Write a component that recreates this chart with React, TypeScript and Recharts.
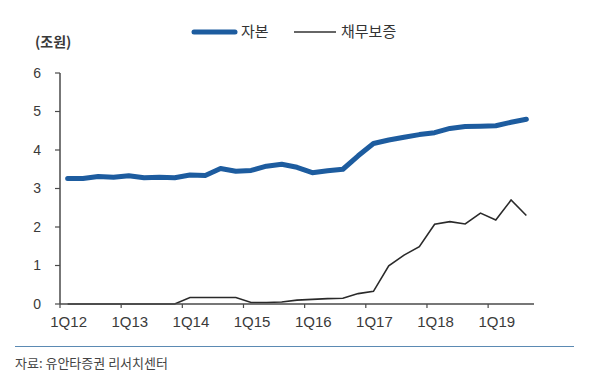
import { LineChart, Line, XAxis, YAxis } from 'recharts';

const quarters = [
  '1Q12', '2Q12', '3Q12', '4Q12',
  '1Q13', '2Q13', '3Q13', '4Q13',
  '1Q14', '2Q14', '3Q14', '4Q14',
  '1Q15', '2Q15', '3Q15', '4Q15',
  '1Q16', '2Q16', '3Q16', '4Q16',
  '1Q17', '2Q17', '3Q17', '4Q17',
  '1Q18', '2Q18', '3Q18', '4Q18',
  '1Q19', '2Q19', '3Q19',
];

// 자본 (조원)
const capital = [
  3.26, 3.26, 3.31, 3.29,
  3.33, 3.28, 3.29, 3.28,
  3.35, 3.34, 3.52, 3.45,
  3.47, 3.58, 3.63, 3.55,
  3.41, 3.46, 3.5, 3.85,
  4.17, 4.26, 4.33, 4.4,
  4.45, 4.56, 4.61, 4.62,
  4.63, 4.72, 4.8,
];

// 채무보증 (조원)
const guarantee = [
  0, 0, 0, 0,
  0, 0, 0, 0,
  0.17, 0.17, 0.17, 0.17,
  0.04, 0.04, 0.05, 0.1,
  0.12, 0.14, 0.15, 0.27,
  0.33, 0.99, 1.27, 1.49,
  2.07, 2.14, 2.08, 2.36,
  2.18, 2.7, 2.3,
];

const yTicks = [0, 1, 2, 3, 4, 5, 6];

const data = quarters.map((q, i) => ({ q, capital: capital[i], guarantee: guarantee[i] }));

const BLUE = '#1d5c9f';
const AXIS = '#4a4a4a';
const KR = '"Noto Sans CJK KR", "Noto Sans", sans-serif';
const LATIN = '"Liberation Sans", Arial, sans-serif';

const PLOT_W = 474;
const BAND = PLOT_W / quarters.length;

function QuarterTick(props: any) {
  const { x, y, payload } = props;
  const tx = x - BAND / 2;
  return (
    <g>
      <line x1={tx} x2={tx} y1={y - 6} y2={y - 2} stroke={AXIS} strokeWidth={1.2} />
      <text x={x + 1} y={y + 17} textAnchor="middle" fontSize={15} fill="#3a3a3a" fontFamily={LATIN}>
        {payload.value}
      </text>
    </g>
  );
}

export default function App() {
  return (
    <div
      style={{
        position: 'absolute',
        left: 0,
        top: 0,
        width: 600,
        height: 390,
        background: '#fff',
        overflow: 'hidden',
      }}
    >
      <div
        style={{
          position: 'absolute',
          left: 35,
          top: 31,
          lineHeight: '20px',
          fontSize: 14,
          fontWeight: 'bold',
          color: '#3a3a3a',
          fontFamily: KR,
        }}
      >
        (조원)
      </div>

      <svg width={600} height={60} style={{ position: 'absolute', left: 0, top: 0 }}>
        <line x1={194} x2={235} y1={32} y2={32} stroke={BLUE} strokeWidth={5} strokeLinecap="round" />
        <text x={241} y={37} fontSize={15} fill="#333" fontFamily={KR}>자본</text>
        <line x1={294} x2={336} y1={32} y2={32} stroke="#333" strokeWidth={1.5} />
        <text x={341} y={37} fontSize={15} fill="#333" fontFamily={KR}>채무보증</text>
      </svg>

      <LineChart
        width={600}
        height={390}
        data={data}
        margin={{ top: 73, right: 66, bottom: 56, left: 0 }}
        style={{ position: 'absolute', left: 0, top: 0 }}
      >
        <XAxis
          dataKey="q"
          type="category"
          scale="band"
          interval={3}
          tickLine={false}
          tickSize={4}
          tickMargin={2}
          height={30}
          axisLine={{ stroke: AXIS, strokeWidth: 1.5 }}
          tick={<QuarterTick />}
        />
        <YAxis
          domain={[0, 6]}
          ticks={yTicks}
          width={60}
          tickSize={5}
          tickMargin={14}
          axisLine={{ stroke: AXIS, strokeWidth: 1.5 }}
          tickLine={{ stroke: AXIS, strokeWidth: 1.2 }}
          tick={{ fontSize: 14, fill: '#3a3a3a', fontFamily: LATIN }}
        />
        <Line
          dataKey="capital"
          stroke={BLUE}
          strokeWidth={5}
          dot={false}
          strokeLinejoin="round"
          strokeLinecap="round"
          isAnimationActive={false}
        />
        <Line
          dataKey="guarantee"
          stroke="#2a2a2a"
          strokeWidth={1.6}
          dot={false}
          isAnimationActive={false}
        />
      </LineChart>

      <div
        style={{
          position: 'absolute',
          left: 15,
          top: 346,
          width: 559,
          borderTop: '1.5px solid #5b8ab3',
        }}
      />
      <div
        style={{
          position: 'absolute',
          left: 15,
          top: 354,
          lineHeight: '18px',
          fontSize: 13,
          color: '#444',
          fontFamily: KR,
        }}
      >
        자료: 유안타증권 리서치센터
      </div>
    </div>
  );
}
